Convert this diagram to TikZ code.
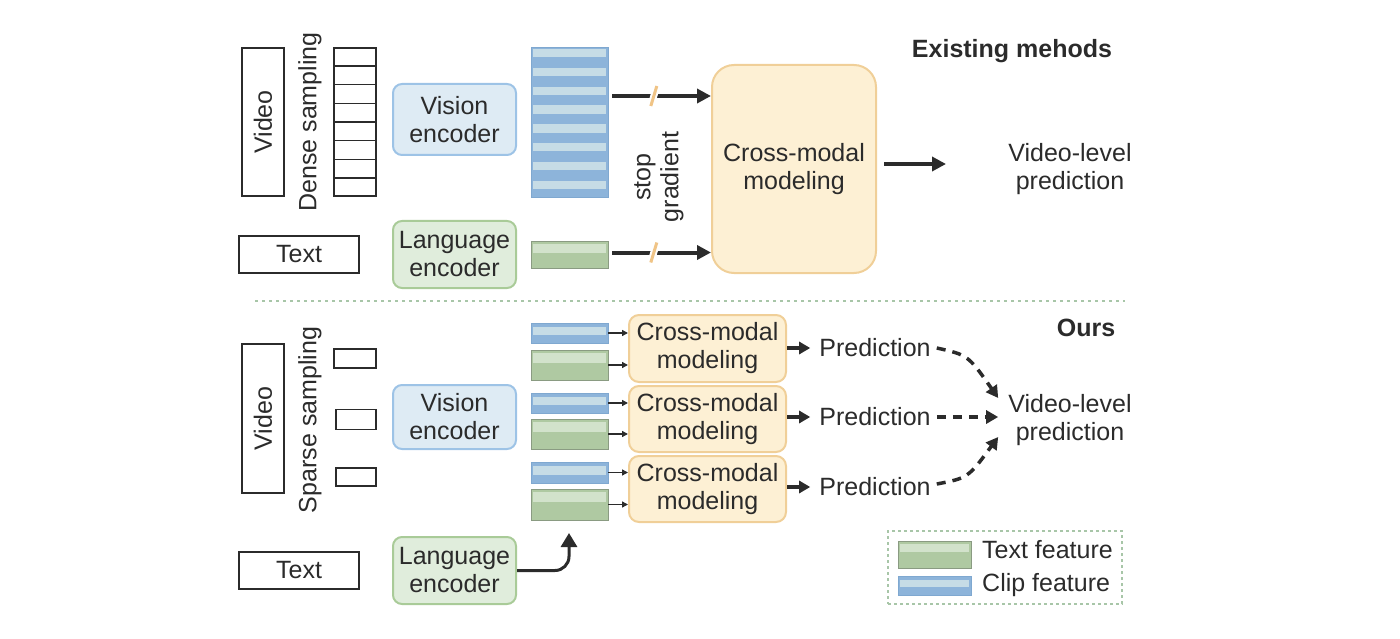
\documentclass[tikz,border=0pt]{standalone}
\usepackage{fontspec}
\setmainfont{Liberation Sans}
\usetikzlibrary{arrows.meta,calc}
\definecolor{ink}{HTML}{2B2B2B}
\definecolor{encblue}{HTML}{9DC3E6}
\definecolor{encbluefill}{HTML}{DEEBF4}
\definecolor{encgreen}{HTML}{A9CB98}
\definecolor{encgreenfill}{HTML}{E0EDDC}
\definecolor{featblue}{HTML}{8DB4DA}
\definecolor{featbluelight}{HTML}{C6DCE6}
\definecolor{featblueline}{HTML}{7FA8D0}
\definecolor{featgreen}{HTML}{AFC9A2}
\definecolor{featgreenlight}{HTML}{D2E2CB}
\definecolor{featgreenline}{HTML}{8A9B82}
\definecolor{cmfill}{HTML}{FDF0D4}
\definecolor{cmline}{HTML}{F0CF98}
\definecolor{slashc}{HTML}{F0C486}
\definecolor{sepc}{HTML}{A8C6A8}
\newcommand\fband[4]{\fill[#4] ($(#1.north west)!#2!(#1.south west)+(2.5,0)$) rectangle ($(#1.north east)!#3!(#1.south east)+(-2.5,0)$);}
\tikzset{
  frame/.style={draw=ink, line width=1.6pt, fill=white, inner sep=0pt, text=ink},
  lbl/.style={text=ink, inner sep=0pt, align=center},
  boldlbl/.style={lbl, font=\fontsize{25}{28}\selectfont\bfseries},
  enc/.style={rounded corners=9pt, line width=2pt, minimum width=123pt, align=center, text=ink, inner sep=0pt},
  vis/.style={enc, draw=encblue, fill=encbluefill},
  lang/.style={enc, draw=encgreen, fill=encgreenfill},
  bfeat/.style={draw=featblueline, line width=0.8pt, fill=featblue, minimum width=77pt, inner sep=0pt},
  gfeat/.style={draw=featgreenline, line width=0.8pt, fill=featgreen, minimum width=77pt, inner sep=0pt},
  cmbox/.style={draw=cmline, fill=cmfill, line width=2pt, align=center, text=ink, inner sep=0pt},
  bigarrow/.style={draw=ink, line width=4pt, -{Triangle[length=14pt,width=14pt]}},
  midarrow/.style={draw=ink, line width=3.5pt, -{Triangle[length=11pt,width=12pt]}},
  smallarrow/.style={draw=ink, line width=1.4pt, -{Triangle[length=6pt,width=6pt]}},
  dasharrow/.style={draw=ink, line width=3.5pt, dash pattern=on 9pt off 7pt, -{Triangle[length=12pt,width=13pt]}},
  curvearrow/.style={draw=ink, line width=3pt, rounded corners=14pt, -{Triangle[length=14pt,width=16pt]}},
  sepline/.style={draw=sepc, line width=1.6pt, dash pattern=on 3pt off 4pt},
  legbox/.style={draw=sepc, line width=1.6pt, dash pattern=on 3pt off 3pt, inner sep=0pt},
  slashgap/.style={draw=white, line width=7pt},
  slashmark/.style={draw=slashc, line width=3pt},
}
\begin{document}
\begin{tikzpicture}[x=1pt,y=-1pt,font=\fontsize{25}{28}\selectfont]
\useasboundingbox (0,0) rectangle (1400,639);

% ---------------- top: existing methods ----------------
\node[frame, minimum width=42pt, minimum height=148pt] (video1) at (263,122) {};
\node[lbl, rotate=90] (video1t) at (video1.center) {Video};
\node[lbl, rotate=90] (dense1t) at (310,122) {Dense sampling};
\node[frame, minimum width=42pt, minimum height=148pt] (dense) at (355,122) {};
\foreach \k in {1,...,7}
  \draw[ink, line width=1.4pt] ($(dense.north west)!\k/8!(dense.south west)$) -- ($(dense.north east)!\k/8!(dense.south east)$);
\node[frame, minimum width=120pt, minimum height=37pt] (text1) at (299,254.5) {Text};

\node[vis, minimum height=71pt] (vis1) at (454.5,119.5) {Vision\\encoder};
\node[lang, minimum height=67pt] (lang1) at (454.5,254.5) {Language\\encoder};

\node[bfeat, minimum height=150pt] (featV) at (569.5,122) {};
\foreach \k [evaluate=\k as \a using (\k+0.12)/8, evaluate=\k as \b using (\k+0.56)/8] in {0,...,7}
  \fband{featV}{\a}{\b}{featbluelight};
\node[gfeat, minimum height=27pt] (featT) at (569.5,254.5) {};
\fband{featT}{0.12}{0.45}{featgreenlight}

\node[cmbox, rounded corners=22pt, minimum width=164pt, minimum height=208pt] (cm) at (794,169) {Cross-modal\\modeling};

\path ([xshift=4pt,yshift=26pt]featV.east) coordinate (s1);
\draw[bigarrow] (s1) -- (s1 -| cm.west);
\draw[slashgap] ($(s1)!0.42!(s1 -| cm.west)+(-3,10)$) -- ++(6,-20);
\draw[slashmark] ($(s1)!0.42!(s1 -| cm.west)+(-3,10)$) -- ++(6,-20);
\path ([xshift=4pt,yshift=2pt]featT.east) coordinate (s2);
\draw[bigarrow] (s2) -- (s2 -| cm.west);
\draw[slashgap] ($(s2)!0.42!(s2 -| cm.west)+(-3,10)$) -- ++(6,-20);
\draw[slashmark] ($(s2)!0.42!(s2 -| cm.west)+(-3,10)$) -- ++(6,-20);
\node[lbl, rotate=90] (stopg) at (659,177) {stop\\gradient};

\node[lbl] (vlp1) at (1070,169) {Video-level\\prediction};
\coordinate (vlp1in) at (946,164);
\draw[bigarrow] ([xshift=7pt,yshift=5pt]cm.east) -- (vlp1in);
\node[boldlbl] (exist) at (1012,51) {Existing mehods};

% separator
\coordinate (sepL) at (255,301);
\coordinate (sepR) at (1125,301);
\draw[sepline] (sepL) -- (sepR);

% ---------------- bottom: ours ----------------
\node[frame, minimum width=42pt, minimum height=149pt] (video2) at (263,418.5) {};
\node[lbl, rotate=90] (video2t) at (video2.center) {Video};
\node[lbl, rotate=90] (sparse2t) at (310,420) {Sparse sampling};
\node[frame, minimum width=42pt, minimum height=19pt] (fr1) at (355,358.5) {};
\node[frame, minimum width=40pt, minimum height=20pt] (fr2) at (356,419.5) {};
\node[frame, minimum width=40pt, minimum height=18pt] (fr3) at (356,477) {};
\node[frame, minimum width=120pt, minimum height=37pt] (text2) at (299,570.5) {Text};

\node[vis, minimum height=64pt] (vis2) at (454.5,417) {Vision\\encoder};
\node[lang, minimum height=67pt] (lang2) at (454.5,570.5) {Language\\encoder};

\node[bfeat, minimum height=20pt] (b1) at (569.5,333) {};
\node[gfeat, minimum height=30pt] (g1) at (569.5,365) {};
\node[bfeat, minimum height=20pt] (b2) at (569.5,403) {};
\node[gfeat, minimum height=30pt] (g2) at (569.5,434) {};
\node[bfeat, minimum height=21pt] (b3) at (569.5,472.5) {};
\node[gfeat, minimum height=31pt] (g3) at (569.5,504.5) {};
\foreach \n in {b1,b2,b3} {\fband{\n}{0.2}{0.6}{featbluelight}}
\foreach \n in {g1,g2,g3} {\fband{\n}{0.12}{0.42}{featgreenlight}}

\coordinate (langout) at (569,533);
\draw[curvearrow] (lang2.east) -| (langout);

\node[cmbox, rounded corners=10pt, minimum width=157pt, minimum height=67pt] (cm1) at (707.5,348.5) {Cross-modal\\modeling};
\node[cmbox, rounded corners=10pt, minimum width=157pt, minimum height=66pt] (cm2) at (707.5,419) {Cross-modal\\modeling};
\node[cmbox, rounded corners=10pt, minimum width=157pt, minimum height=66pt] (cm3) at (707.5,489) {Cross-modal\\modeling};

\foreach \f/\c in {b1/cm1,g1/cm1,b2/cm2,g2/cm2,b3/cm3,g3/cm3}
  \draw[smallarrow] (\f.east) -- (\f.east -| \c.west);

\node[lbl] (pred1) at (875,348) {Prediction};
\node[lbl] (pred2) at (875,417) {Prediction};
\node[lbl] (pred3) at (875,487) {Prediction};
\draw[midarrow] (cm1.east |- pred1.west) -- ([xshift=-9pt]pred1.west);
\draw[midarrow] (cm2.east |- pred2.west) -- ([xshift=-9pt]pred2.west);
\draw[midarrow] (cm3.east |- pred3.west) -- ([xshift=-9pt]pred3.west);

\node[lbl] (vlp2) at (1070,420) {Video-level\\prediction};
\draw[dasharrow] ([xshift=6pt]pred1.east) .. controls (968,355) .. ([xshift=-10pt,yshift=22pt]vlp2.west);
\draw[dasharrow] ([xshift=6pt]pred2.east) -- ([xshift=-10pt]vlp2.west |- pred2.east);
\draw[dasharrow] ([xshift=6pt,yshift=3pt]pred3.east) .. controls (968,478) .. ([xshift=-10pt,yshift=-17pt]vlp2.west);

\node[boldlbl] (ours) at (1086,328) {Ours};

% legend
\node[legbox, minimum width=234pt, minimum height=73pt] (legend) at (1005,567.5) {};
\node[gfeat, minimum width=73pt, minimum height=27pt] (legG) at (934.5,554.5) {};
\fband{legG}{0.12}{0.42}{featgreenlight}
\node[bfeat, minimum width=73pt, minimum height=19pt] (legB) at (934.5,585.5) {};
\fband{legB}{0.2}{0.6}{featbluelight}
\node[lbl, anchor=west] (legGt) at (982,550) {Text feature};
\node[lbl, anchor=west] (legBt) at (982,585) {Clip feature};
\end{tikzpicture}
\end{document}
